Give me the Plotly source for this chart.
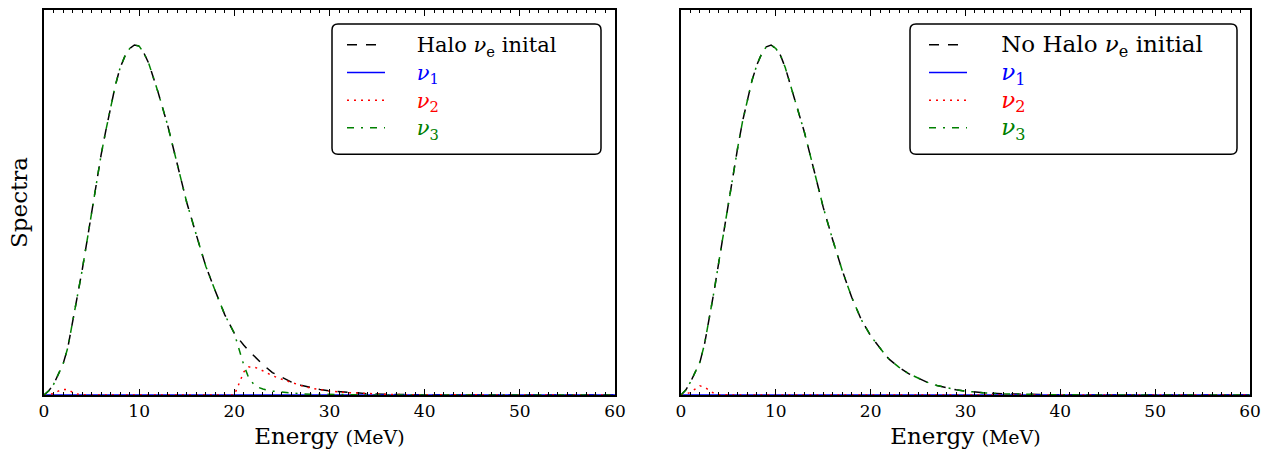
import plotly.graph_objects as go

# Energy grid (MeV)
energy = [0, 0.5, 1, 1.5, 2, 2.5, 3, 3.5, 4, 4.5, 5, 5.5, 6, 6.5, 7, 7.5, 8, 8.5,
          9, 9.5, 10, 10.5, 11, 12, 13, 14, 15, 16, 17, 18, 19, 20, 20.5, 21,
          21.5, 22, 22.5, 23, 24, 25, 26, 27, 28, 29, 30, 32, 34, 36, 38, 40,
          45, 50, 55, 60]

# Halo case
halo_init = [0, 0.012, 0.03, 0.058, 0.088, 0.135, 0.205, 0.28, 0.355, 0.437,
             0.52, 0.605, 0.686, 0.756, 0.822, 0.885, 0.935, 0.968, 0.99, 1.0,
             0.997, 0.977, 0.948, 0.864, 0.77, 0.662, 0.55, 0.458, 0.368, 0.297,
             0.229, 0.176, 0.158, 0.142, 0.127, 0.113, 0.1, 0.087, 0.064, 0.05,
             0.037, 0.028, 0.021, 0.016, 0.012, 0.0068, 0.0037, 0.002, 0.001,
             0.0005, 0.0001, 0, 0, 0]
halo_nu1 = [0] * 54
halo_nu2 = [0, 0.001, 0.004, 0.011, 0.016, 0.016, 0.008, 0.003, 0.001, 0,
            0, 0, 0, 0, 0, 0, 0, 0, 0, 0,
            0, 0, 0, 0, 0, 0, 0, 0, 0, 0,
            0, 0, 0.033, 0.066, 0.08, 0.08, 0.076, 0.069, 0.055, 0.045,
            0.035, 0.027, 0.02, 0.015, 0.011, 0.0065, 0.0036, 0.002, 0.001,
            0.0005, 0.0001, 0, 0, 0]
halo_nu3 = [0, 0.012, 0.03, 0.058, 0.088, 0.135, 0.205, 0.28, 0.355, 0.437,
            0.52, 0.605, 0.686, 0.756, 0.822, 0.885, 0.935, 0.968, 0.99, 1.0,
            0.997, 0.977, 0.948, 0.864, 0.77, 0.662, 0.55, 0.458, 0.368, 0.297,
            0.229, 0.176, 0.13, 0.085, 0.05, 0.032, 0.022, 0.017, 0.011, 0.008,
            0.005, 0.0035, 0.0025, 0.0018, 0.0013, 0.0007, 0.0003, 0.0001, 0,
            0, 0, 0, 0, 0]

# No-halo case
nohalo_init = [0, 0.014, 0.037, 0.066, 0.094, 0.148, 0.218, 0.298, 0.382,
               0.465, 0.552, 0.632, 0.71, 0.783, 0.846, 0.9, 0.943, 0.975,
               0.995, 1.0, 0.99, 0.97, 0.935, 0.842, 0.752, 0.645, 0.536,
               0.443, 0.356, 0.279, 0.216, 0.169, 0.151, 0.133, 0.116, 0.101,
               0.09, 0.079, 0.061, 0.048, 0.036, 0.027, 0.02, 0.015, 0.011,
               0.006, 0.0033, 0.0018, 0.0009, 0.0005, 0.0001, 0, 0, 0]
nohalo_nu1 = [0] * 54
nohalo_nu2 = [0, 0.002, 0.008, 0.018, 0.026, 0.022, 0.012, 0.004, 0.001, 0,
              0, 0, 0, 0, 0, 0, 0, 0, 0, 0,
              0, 0, 0, 0, 0, 0, 0, 0, 0, 0,
              0, 0, 0, 0, 0, 0, 0, 0, 0, 0.001,
              0.0015, 0.002, 0.002, 0.002, 0.002, 0.0015, 0.001, 0.0005, 0.0003,
              0.0002, 0, 0, 0, 0]
nohalo_nu3 = [0, 0.014, 0.037, 0.066, 0.094, 0.148, 0.218, 0.298, 0.382,
              0.465, 0.552, 0.632, 0.71, 0.783, 0.846, 0.9, 0.943, 0.975,
              0.995, 1.0, 0.99, 0.97, 0.935, 0.842, 0.752, 0.645, 0.536,
              0.443, 0.356, 0.279, 0.216, 0.169, 0.151, 0.133, 0.116, 0.101,
              0.09, 0.079, 0.061, 0.048, 0.036, 0.027, 0.02, 0.015, 0.011,
              0.006, 0.0033, 0.0018, 0.0009, 0.0005, 0.0001, 0, 0, 0]

x_ticks = [0, 10, 20, 30, 40, 50, 60]

SERIF = "DejaVu Serif"
NU = "<i>\u03bd</i>"


def entry(txt, color, size):
    gap = "\u00a0" * 4
    return f'<span style="color:{color};font-size:{size}px">{gap}{txt}</span>'


panels = [
    ("x", "y", "legend", 21, "Halo " + NU + "<sub>e</sub> inital",
     halo_init, halo_nu1, halo_nu2, halo_nu3),
    ("x2", "y2", "legend2", 23, "No Halo " + NU + "<sub>e</sub> initial",
     nohalo_init, nohalo_nu1, nohalo_nu2, nohalo_nu3),
]

fig = go.Figure()
for xa, ya, leg, fsize, init_name, init_v, n1, n2, n3 in panels:
    specs = [
        (init_name, init_v, "black", "10px,9px", "a"),
        (NU + "<sub>1</sub>", n1, "#0000ff", "solid", "b"),
        (NU + "<sub>2</sub>", n2, "#ff0000", "2px,5px", "c"),
        (NU + "<sub>3</sub>", n3, "#008000", "7px,7px,2px,7px", "d"),
    ]
    for name, vals, col, dash, grp in specs:
        fig.add_trace(go.Scatter(
            x=energy, y=vals, mode="lines", xaxis=xa, yaxis=ya,
            name=entry(name, col, fsize), legend=leg,
            legendgroup=leg + grp,
            line=dict(color=col, width=1.5, dash=dash),
            hoverinfo="skip",
        ))

W, H = 1279, 453
ML, MR, MT, MB = 44, 29, 8, 58
PW, PH = W - ML - MR, H - MT - MB
d1 = (0, (615 - ML) / PW)
d2 = ((681 - ML) / PW, 1)

xcommon = dict(
    range=[0, 60], tickvals=x_ticks, ticks="inside", ticklen=6, tickwidth=1,
    tickcolor="black", showline=True, linecolor="black", linewidth=1.8,
    mirror="ticks", showgrid=False, zeroline=False,
    tickfont=dict(family=SERIF, size=17, color="black"),
    minor=dict(dtick=1, ticks="inside", ticklen=3, tickwidth=1,
               tickcolor="black", showgrid=False),
    title=dict(text="Energy <span style='font-size:19px'>(MeV)</span>",
               font=dict(family=SERIF, size=23, color="black"), standoff=8),
)
ycommon = dict(
    range=[0, 1.1], showticklabels=False, ticks="", showline=True,
    linecolor="black", linewidth=1.6, mirror=True, showgrid=False,
    zeroline=False,
)


def px_x(p):
    return (p - ML) / PW


def px_y(p):
    return (H - MB - p) / PH


def rounded_box(x0, y0, x1, y1, r=6):
    rx, ry = r / PW, r / PH
    a, b, c, d = px_x(x0), px_y(y1), px_x(x1), px_y(y0)
    return (f"M{a + rx},{b} L{c - rx},{b} Q{c},{b} {c},{b + ry} "
            f"L{c},{d - ry} Q{c},{d} {c - rx},{d} L{a + rx},{d} "
            f"Q{a},{d} {a},{d - ry} L{a},{b + ry} Q{a},{b} {a + rx},{b} Z")


legend_common = dict(
    bgcolor="rgba(0,0,0,0)", borderwidth=0, itemwidth=38,
    font=dict(family=SERIF, size=19, color="black"),
    xanchor="left", yanchor="top", tracegroupgap=0,
    itemclick=False, itemdoubleclick=False,
)

fig.update_layout(
    width=W, height=H,
    margin=dict(l=ML, r=MR, t=MT, b=MB),
    paper_bgcolor="white", plot_bgcolor="white",
    xaxis=dict(domain=list(d1), anchor="y", **xcommon),
    xaxis2=dict(domain=list(d2), anchor="y2", **xcommon),
    yaxis=dict(domain=[0, 1], anchor="x", **ycommon,
               title=dict(text="Spectra", standoff=8,
                          font=dict(family=SERIF, size=23, color="black"))),
    yaxis2=dict(domain=[0, 1], anchor="x2", **ycommon),
    legend=dict(x=px_x(342), y=px_y(24), **legend_common),
    legend2=dict(x=px_x(924), y=px_y(24), **legend_common),
    shapes=[
        dict(type="path", xref="paper", yref="paper",
             path=rounded_box(332, 22, 601, 153),
             line=dict(color="black", width=1.5), fillcolor="white",
             layer="below"),
        dict(type="path", xref="paper", yref="paper",
             path=rounded_box(910, 22, 1237, 153),
             line=dict(color="black", width=1.5), fillcolor="white",
             layer="below"),
    ],
    showlegend=True,
)

fig.write_html("out.html", config=dict(displayModeBar=False))
